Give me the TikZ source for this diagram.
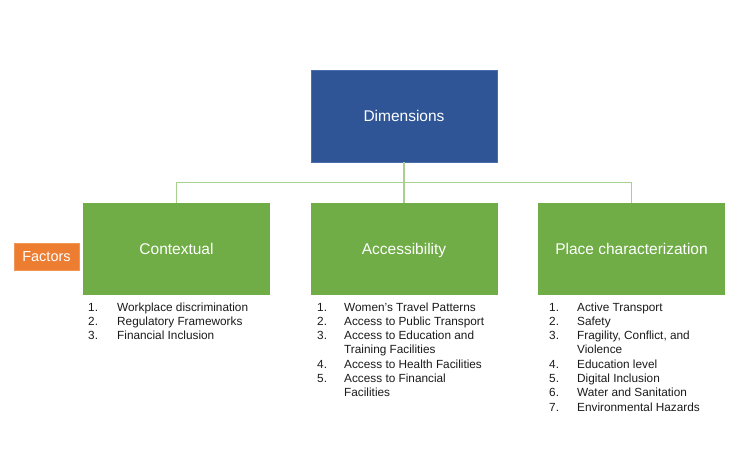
\documentclass[tikz,border=0pt]{standalone}
\usepackage{fontspec}
\setmainfont{Liberation Sans}
\definecolor{dimblue}{HTML}{2F5597}
\definecolor{dimedge}{HTML}{4A6FB0}
\definecolor{facgreen}{HTML}{70AD47}
\definecolor{facorange}{HTML}{ED7D31}
\definecolor{connline}{HTML}{A9D18E}
\definecolor{itemtext}{HTML}{1A1A1A}
\begin{document}
\begin{tikzpicture}[x=1pt,y=-1pt,
  dimbox/.style={draw=dimedge, line width=0.8pt, fill=dimblue, text=white, inner sep=0pt,
    minimum width=186pt, minimum height=92pt, text height=11pt, text depth=0pt,
    font=\fontsize{15.5}{18}\selectfont},
  facbox/.style={fill=facgreen, text=white, inner sep=0pt,
    minimum width=187pt, minimum height=92pt, text height=11pt, text depth=0pt,
    font=\fontsize{15.5}{18}\selectfont},
  tagbox/.style={fill=facorange, draw=facorange!80!white, line width=0.5pt, text=white, inner sep=0pt,
    minimum width=65pt, minimum height=27pt, text height=10.4pt, text depth=0pt,
    font=\fontsize{14.5}{17}\selectfont},
  conn/.style={draw=connline, line width=1.2pt},
  item/.style={anchor=base west, inner sep=0pt, text=itemtext, font=\fontsize{11.8}{14}\selectfont}
]
\useasboundingbox (0,0) rectangle (755,450);

\node[dimbox] (dim) at (404,116) {Dimensions};
\node[facbox] (ctx) at (176.5,249) {Contextual};
\node[facbox] (acc) at (404,249) {Accessibility};
\node[facbox] (plc) at (631.5,249) {Place characterization};
\node[tagbox] (fac) at (46.5,256.5) {Factors};

\draw[conn] (dim.south) -- (acc.north);
\draw[conn] (ctx.north) -- ++(0,-20) -| (plc.north);

% Contextual list
\node[item] (c1n) at (88,311) {1.};
\node[item] (c1) at (117,311) {Workplace discrimination};
\node[item] (c2n) at (88,325.3) {2.};
\node[item] (c2) at (117,325.3) {Regulatory Frameworks};
\node[item] (c3n) at (88,339.6) {3.};
\node[item] (c3) at (117,339.6) {Financial Inclusion};

% Accessibility list
\node[item] (a1n) at (317,311) {1.};
\node[item] (a1) at (344,311) {Women’s Travel Patterns};
\node[item] (a2n) at (317,325.3) {2.};
\node[item] (a2) at (344,325.3) {Access to Public Transport};
\node[item] (a3n) at (317,339.6) {3.};
\node[item] (a3) at (344,339.6) {Access to Education and};
\node[item] (a3b) at (344,353.9) {Training Facilities};
\node[item] (a4n) at (317,368.2) {4.};
\node[item] (a4) at (344,368.2) {Access to Health Facilities};
\node[item] (a5n) at (317,382.5) {5.};
\node[item] (a5) at (344,382.5) {Access to Financial};
\node[item] (a5b) at (344,396.8) {Facilities};

% Place characterization list
\node[item] (p1n) at (549,311) {1.};
\node[item] (p1) at (577,311) {Active Transport};
\node[item] (p2n) at (549,325.3) {2.};
\node[item] (p2) at (577,325.3) {Safety};
\node[item] (p3n) at (549,339.6) {3.};
\node[item] (p3) at (577,339.6) {Fragility, Conflict, and};
\node[item] (p3b) at (577,353.9) {Violence};
\node[item] (p4n) at (549,368.2) {4.};
\node[item] (p4) at (577,368.2) {Education level};
\node[item] (p5n) at (549,382.5) {5.};
\node[item] (p5) at (577,382.5) {Digital Inclusion};
\node[item] (p6n) at (549,396.8) {6.};
\node[item] (p6) at (577,396.8) {Water and Sanitation};
\node[item] (p7n) at (549,411.1) {7.};
\node[item] (p7) at (577,411.1) {Environmental Hazards};
\end{tikzpicture}
\end{document}
